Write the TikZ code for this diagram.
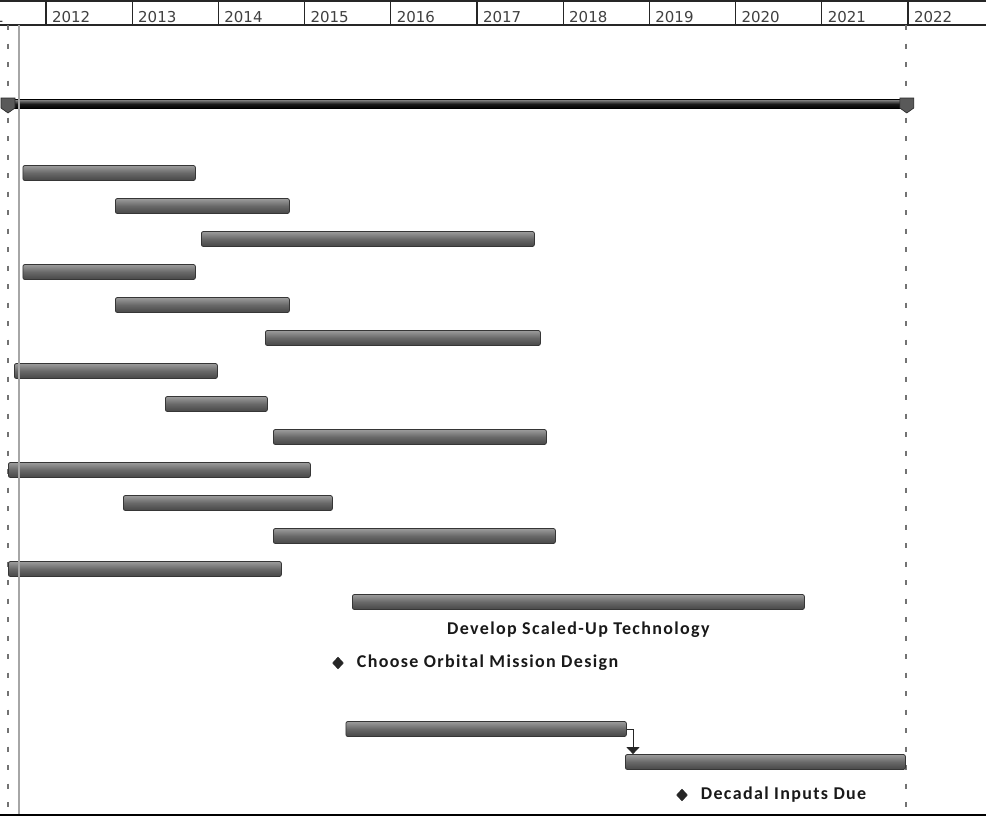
\documentclass[tikz,border=0pt]{standalone}
\usepackage{fontspec}
\setmainfont{Carlito}
\newfontfamily\yearfont{DejaVu Sans}
\newfontfamily\ganttfont[LetterSpace=7.5]{Carlito}
\usetikzlibrary{shapes,arrows.meta,positioning,calc}

\definecolor{barTop}{HTML}{9C9C9C}
\definecolor{barMid}{HTML}{686868}
\definecolor{barBot}{HTML}{474747}
\definecolor{barEdge}{HTML}{363636}

\begin{document}
\begin{tikzpicture}[x=1pt, y=-1pt, node distance=0pt, >={Triangle[width=13pt,length=7pt]}]
\tikzset{
yearcell/.style   = {draw=black!85, line width=1.3pt, outer sep=0pt, anchor=north west, minimum width=86.2pt, minimum height=24pt, inner xsep=6pt, inner ysep=0pt, text width=74.2pt, text height=19pt, text depth=0pt, align=left, text=black!75, font=\yearfont\fontsize{15pt}{17pt}\selectfont},
taskbar/.style    = {draw=barEdge, line width=0.8pt, rounded corners=2pt, top color=barTop, bottom color=barBot, middle color=barMid, minimum height=15pt, inner sep=0pt, anchor=west},
summarybar/.style = {draw=black, line width=0.8pt, top color=black!45, bottom color=black, middle color=black!90, minimum height=9pt, inner sep=0pt, anchor=west},
summarycap/.style = {fill=black!65, draw=black!85, line width=0.6pt},
milestone/.style  = {shape=diamond, fill=black!85, draw=black!85, minimum width=11pt, minimum height=12pt, inner sep=0pt},
milelabel/.style  = {inner sep=0pt, text=black!90, font=\ganttfont\bfseries\fontsize{18pt}{21pt}\selectfont},
link/.style       = {draw=black!85, line width=1pt},
deadline/.style   = {draw=black!55, line width=1.2pt, dash pattern=on 5pt off 13.5pt},
startline/.style  = {draw=black!35, line width=1.4pt},
}
    \useasboundingbox (0,0) rectangle (986,823);
    \clip (0,0) rectangle (986,823);
    \fill [white] (0,0) rectangle (986,823);

    % Year header
    \node [yearcell]                  (y2011) at (-40.2,1) {2011};
    \node [yearcell, right=of y2011]  (y2012) {2012};
    \node [yearcell, right=of y2012]  (y2013) {2013};
    \node [yearcell, right=of y2013]  (y2014) {2014};
    \node [yearcell, right=of y2014]  (y2015) {2015};
    \node [yearcell, right=of y2015]  (y2016) {2016};
    \node [yearcell, right=of y2016]  (y2017) {2017};
    \node [yearcell, right=of y2017]  (y2018) {2018};
    \node [yearcell, right=of y2018]  (y2019) {2019};
    \node [yearcell, right=of y2019]  (y2020) {2020};
    \node [yearcell, right=of y2020]  (y2021) {2021};
    \node [yearcell, right=of y2021]  (y2022) {2022};

    % Deadlines
    \draw [deadline] (8,25)   -- (8,815);
    \draw [deadline] (906,25) -- (906,815);

    % Summary bar
    \node [summarybar, minimum width=907pt] (program) at (3,104) {};
    \draw [summarycap] ([xshift=5pt]program.west)  +(-7,-6) -- +(7,-6) -- +(7,4) -- +(0,9) -- +(-7,4) -- cycle;
    \draw [summarycap] ([xshift=-4pt]program.east) +(-7,-6) -- +(7,-6) -- +(7,4) -- +(0,9) -- +(-7,4) -- cycle;

    % Task bars
    \node [taskbar, minimum width=172.5pt]  (task1)     at (22.5,173) {};
    \node [taskbar, minimum width=174pt]    (task2)     at (115,206)  {};
    \node [taskbar, minimum width=333pt]    (task3)     at (201,239)  {};
    \node [taskbar, minimum width=172.5pt]  (task4)     at (22.5,272) {};
    \node [taskbar, minimum width=174pt]    (task5)     at (115,305)  {};
    \node [taskbar, minimum width=275pt]    (task6)     at (265,338)  {};
    \node [taskbar, minimum width=203pt]    (task7)     at (14,371)   {};
    \node [taskbar, minimum width=102pt]    (task8)     at (165,404)  {};
    \node [taskbar, minimum width=273pt]    (task9)     at (273,437)  {};
    \node [taskbar, minimum width=302pt]    (task10)    at (8,470)    {};
    \node [taskbar, minimum width=209pt]    (task11)    at (123,503)  {};
    \node [taskbar, minimum width=282pt]    (task12)    at (273,536)  {};
    \node [taskbar, minimum width=273pt]    (task13)    at (8,569)    {};
    \node [taskbar, minimum width=452pt]    (scaleup)   at (352,602)  {};
    \node [milelabel, below=12pt of scaleup] (scaleuplabel) {Develop Scaled-Up Technology};

    % Milestones
    \node [milestone]                        (orbitdesign) at (338,663) {};
    \node [milelabel, right=13pt of orbitdesign] (orbitlabel) {Choose Orbital Mission Design};

    \node [taskbar, minimum width=280.5pt]  (inputprep) at (345.5,729) {};
    \node [taskbar, minimum width=280pt]    (inputs)    at (625,762)   {};
    \draw [link, ->] (inputprep.east) -| ([xshift=8pt]inputs.north west);

    \node [milestone]                        (decadal) at (682,795) {};
    \node [milelabel, right=13pt of decadal] (decadallabel) {Decadal Inputs Due};

    % Frame
    \draw [startline] (19,25) -- (19,815);
    \draw [draw=black, line width=2pt] (0,815) -- (986,815);
\end{tikzpicture}
\end{document}
